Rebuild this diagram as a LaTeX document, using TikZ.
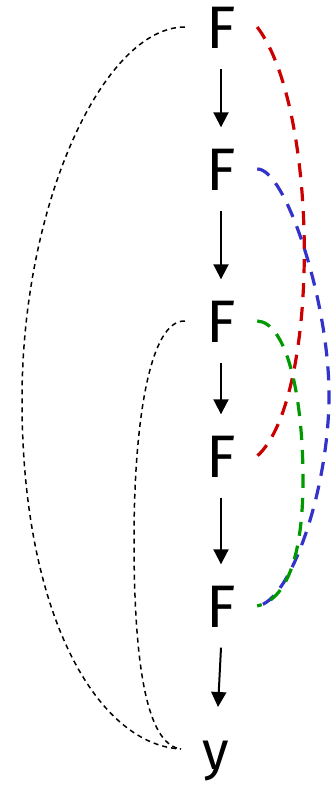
\documentclass[tikz,border=0pt]{standalone}
\usepackage{fontspec}
\setmainfont{Fira Sans}
\usetikzlibrary{arrows.meta}
\definecolor{linkred}{HTML}{CC0000}
\definecolor{linkblue}{HTML}{3333CC}
\definecolor{linkgreen}{HTML}{009900}
\tikzset{
  fnode/.style={font=\fontsize{60}{60}\selectfont, text height=43pt, text depth=0pt,
    inner xsep=0pt, inner ysep=20pt, minimum width=72pt},
  ynode/.style={font=\fontsize{54}{54}\selectfont, inner sep=0pt, anchor=north},
  arr/.style={line width=2pt, -{Triangle[width=15pt,length=15pt]}},
  blackdash/.style={line width=1.5pt, dash pattern=on 5pt off 4pt},
  colordash/.style={line width=3.2pt, dash pattern=on 14pt off 10pt},
}
\begin{document}
\begin{tikzpicture}[x=1pt, y=-1pt]
  \useasboundingbox (0,0) rectangle (331,785);

  % chain of F nodes and the output
  \node[fnode] (f1) at (221,27)  {F};
  \node[fnode] (f2) at (221,169) {F};
  \node[fnode] (f3) at (221,321) {F};
  \node[fnode] (f4) at (221,456) {F};
  \node[fnode] (f5) at (221,606) {F};
  \node[ynode] (y)  at (216,741) {y};
  \coordinate (yl) at (181,749);

  % straight arrows down the chain
  \draw[arr] (f1.south) -- (f2.north);
  \draw[arr] (f2.south) -- (f3.north);
  \draw[arr] (f3.south) -- (f4.north);
  \draw[arr] (f4.south) -- (f5.north);
  \draw[arr] (f5.south) -- ([xshift=2pt,yshift=34pt]y.north);

  % black dashed links into y
  \draw[blackdash] (f1.west) .. controls (105,27) and (22,200) .. (22,400)
                             .. controls (22,620) and (100,745) .. (yl);
  \draw[blackdash] (f3.west) .. controls (150,320) and (134,420) .. (134,540)
                             .. controls (134,680) and (150,745) .. (yl);

  % coloured dashed links on the right
  \draw[colordash, linkred] (f1.east) .. controls (320,110) and (320,400) .. (f4.east);
  \draw[colordash, linkblue] (f2.east) .. controls (285,168) and (329,300) .. (329,395)
                             .. controls (329,490) and (290,602) .. (f5.east);
  \draw[colordash, linkgreen] (f3.east) .. controls (285,322) and (303,390) .. (303,480)
                             .. controls (303,560) and (285,600) .. (f5.east);
\end{tikzpicture}
\end{document}
